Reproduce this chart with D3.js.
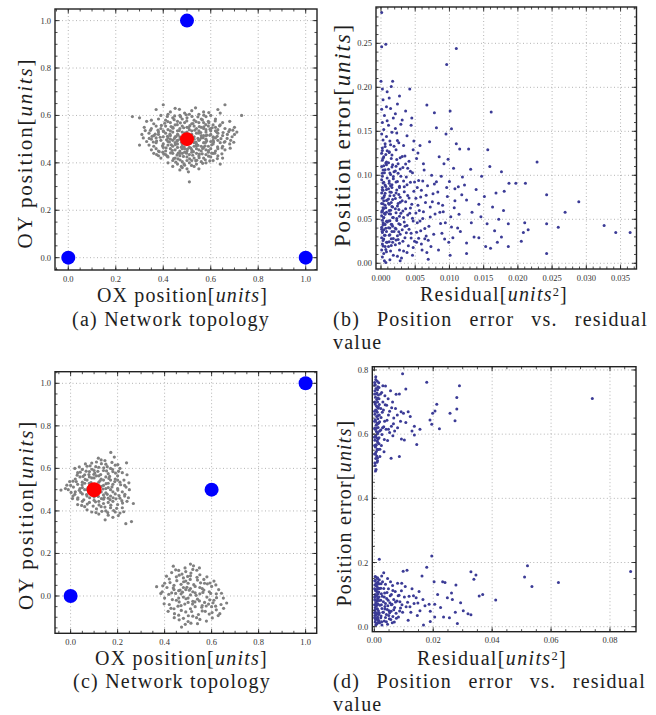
<!DOCTYPE html>
<html lang="en">
<head>
<meta charset="UTF-8">
<title>Network topology and position error vs residual</title>
<script src="https://cdn.jsdelivr.net/npm/d3@7"></script>
<style>
  body { margin: 0; background: #fff; }
  svg { display: block; }
  svg text { font-family: "Liberation Serif", "Times New Roman", serif; }
</style>
</head>
<body>
<svg id="fig" width="656" height="715"></svg>
<script>
// ---- data ----

// (a) anchors, target and estimated positions
const anchorsA = [[0, 0], [.5, 1], [1, 0]];
const targetA = [[.5, .5]];
const cloudA = [
  [.40,.645],[.66,.645],[.45,.63],[.37,.625],[.63,.625],[.52,.62],[.57,.615],[.43,.615],[.49,.61],
  [.27,.595],[.73,.60],[.30,.59],[.42,.605],[.47,.60],[.55,.605],[.60,.60],[.64,.61],[.39,.60],[.51,.605],[.58,.595],[.35,.58],
  [.33,.575],[.38,.585],[.41,.58],[.44,.59],[.46,.575],[.48,.585],[.50,.59],[.53,.58],[.56,.585],[.59,.575],[.62,.585],[.65,.57],[.68,.575],[.36,.565],[.43,.57],[.52,.565],[.57,.57],[.61,.56],[.49,.57],[.55,.57],
  [.32,.55],[.35,.545],[.37,.555],[.39,.545],[.41,.555],[.42,.54],[.44,.55],[.45,.56],[.47,.545],[.48,.555],[.50,.55],[.51,.54],[.53,.555],[.54,.545],[.56,.55],[.58,.54],[.59,.555],[.60,.545],[.62,.55],[.63,.54],[.66,.545],[.68,.54],[.70,.55],[.46,.535],[.40,.535],[.55,.535],[.64,.56],[.38,.53],
  [.31,.52],[.34,.525],[.36,.515],[.38,.52],[.40,.51],[.41,.525],[.43,.515],[.44,.53],[.46,.52],[.47,.51],[.49,.525],[.52,.52],[.53,.51],[.55,.525],[.57,.515],[.58,.53],[.60,.52],[.61,.51],[.63,.525],[.65,.515],[.67,.52],[.69,.51],[.71,.53],[.70,.52],[.42,.505],[.56,.505],[.62,.535],[.37,.505],
  [.30,.475],[.33,.49],[.35,.50],[.37,.485],[.39,.495],[.40,.48],[.42,.49],[.43,.50],[.45,.485],[.46,.495],[.48,.48],[.54,.48],[.55,.495],[.57,.485],[.58,.50],[.60,.49],[.61,.48],[.63,.495],[.64,.485],[.66,.49],[.68,.48],[.36,.47],[.59,.47],[.44,.47],[.65,.47],[.34,.475],[.62,.505],
  [.35,.455],[.37,.46],[.38,.45],[.40,.465],[.41,.45],[.43,.46],[.45,.455],[.46,.465],[.47,.45],[.49,.46],[.50,.45],[.51,.465],[.52,.455],[.54,.46],[.56,.45],[.57,.465],[.58,.455],[.60,.46],[.62,.45],[.63,.46],[.66,.455],[.48,.47],[.53,.47],
  [.38,.43],[.39,.42],[.41,.435],[.42,.425],[.44,.44],[.45,.42],[.47,.43],[.48,.44],[.50,.425],[.51,.435],[.53,.42],[.54,.44],[.55,.43],[.57,.42],[.58,.435],[.60,.425],[.61,.44],[.63,.43],[.65,.42],[.36,.44],[.59,.445],
  [.42,.40],[.44,.41],[.46,.395],[.48,.405],[.49,.39],[.51,.40],[.52,.41],[.54,.395],[.56,.405],[.58,.40],[.64,.395],[.61,.41],[.50,.41],
  [.47,.37],[.48,.38],[.50,.375],[.53,.385],[.55,.375],[.44,.385],[.51,.32],
  [.47,.50],[.49,.505],[.51,.515],[.53,.50],[.56,.515],[.45,.51],[.48,.53],[.52,.535],[.54,.525],[.50,.53],[.46,.48],[.53,.485],[.56,.47],[.44,.495],[.58,.515],[.48,.46],[.55,.455],[.52,.445],[.47,.44],[.57,.545],[.43,.535],[.60,.535],[.49,.445],[.42,.475],[.61,.495],
  [.383,.447],[.397,.472],[.412,.463],[.426,.488],[.438,.452],[.451,.477],[.463,.441],[.476,.466],[.489,.492],[.502,.458],[.514,.483],[.527,.447],[.539,.472],[.552,.437],[.566,.461],[.578,.486],[.591,.452],[.604,.476],[.617,.441],[.629,.467],
  [.387,.508],[.401,.532],[.414,.497],[.428,.521],[.441,.546],[.454,.511],[.467,.536],[.481,.501],[.494,.525],[.507,.549],[.519,.514],[.533,.538],[.546,.503],[.558,.528],[.571,.552],[.584,.517],[.597,.542],[.611,.507],[.624,.531],[.637,.556],
  [.392,.558],[.406,.567],[.419,.574],[.433,.553],[.446,.582],[.459,.561],[.472,.569],[.486,.548],[.499,.577],[.512,.557],[.525,.566],[.538,.574],[.552,.553],[.565,.581],[.579,.561],[.592,.569],[.606,.548],[.619,.577],
  [.402,.437],[.417,.428],[.431,.442],[.444,.418],[.458,.433],[.471,.412],[.485,.427],[.498,.441],[.511,.417],[.524,.432],[.537,.409],[.551,.422],[.564,.438],[.577,.413],[.591,.428],[.604,.441],
  [.372,.492],[.378,.538],[.366,.521],[.643,.502],[.652,.528],[.648,.463],[.657,.487],[.669,.503],[.676,.532],[.684,.495],[.693,.538],[.353,.512],[.346,.537],[.358,.488],[.341,.503],[.324,.536],[.316,.505],
  [.447,.503],[.462,.518],[.477,.487],[.492,.513],[.508,.492],[.523,.508],[.538,.488],[.553,.497],[.568,.506],[.583,.492],[.458,.492],[.488,.468],[.516,.462],[.546,.474],[.576,.472],[.434,.476],[.418,.512],[.596,.516],[.612,.488],[.627,.512],
  [.448,.598],[.473,.594],[.497,.603],[.521,.596],[.546,.594],[.571,.601],[.468,.626],[.536,.632],[.592,.612],[.417,.596],
  [.453,.403],[.487,.396],[.519,.389],[.541,.411],[.566,.398],[.596,.408],[.476,.385],[.506,.362],[.462,.417],[.628,.418],[.398,.445],[.372,.435],[.647,.438],[.682,.462],[.697,.487]
];

// (b) residual vs position error
const errB = [
  [.0001,.285],[.0001,.246],[.0007,.249],[0,.207],[.0002,.198],[.0003,.186],[.0001,.175],[.0005,.168],[.0002,.160],[.0004,.152],[.0001,.147],[.0003,.140],[.0006,.136],[.0002,.131],[.0001,.125],[.0004,.121],[.0002,.117],[.0007,.114],[.0001,.110],[.0003,.106],[.0005,.103],[.0002,.099],[.0001,.095],[.0004,.092],[.0006,.089],[.0002,.086],[.0003,.083],[.0001,.080],[.0005,.077],[.0002,.074],[.0004,.071],[.0001,.068],[.0006,.066],[.0003,.063],[.0002,.060],[.0005,.057],[.0001,.054],[.0004,.052],[.0002,.049],[.0003,.046],[.0006,.044],[.0001,.041],[.0004,.038],[.0002,.035],[.0005,.032],[.0001,.029],[.0003,.026],[.0002,.022],[.0006,.019],[.0001,.015],[.0004,.011],[.0002,.007],[.0005,.003],
  [.0009,.195],[.0008,.178],[.0009,.162],[.0008,.144],[.0009,.128],[.0008,.112],[.0009,.097],[.0008,.084],[.0009,.072],[.0008,.058],[.0009,.047],[.0008,.036],[.0009,.024],[.0008,.013],[.0007,.001],
  [.0017,.207],[.0015,.201],[.0012,.188],[.0014,.176],[.0018,.165],[.0011,.157],[.0016,.149],[.0013,.139],[.0019,.133],[.0012,.126],[.0015,.119],[.0017,.112],[.0011,.107],[.0014,.101],[.0018,.096],[.0012,.091],[.0016,.086],[.0013,.081],[.0019,.077],[.0011,.073],[.0015,.069],[.0017,.064],[.0012,.060],[.0014,.056],[.0018,.052],[.0011,.048],[.0016,.044],[.0013,.040],[.0019,.036],[.0012,.032],[.0015,.028],[.0017,.024],[.0011,.019],[.0014,.014],[.0018,.009],[.0013,.004],[.0016,.123],[.0019,.104],[.0012,.067],[.0017,.042],[.0014,.088],
  [.0027,.190],[.0024,.181],[.0021,.170],[.0029,.158],[.0023,.148],[.0026,.137],[.0022,.129],[.0028,.120],[.0025,.113],[.0021,.105],[.0029,.099],[.0024,.093],[.0027,.086],[.0022,.080],[.0028,.075],[.0025,.068],[.0021,.062],[.0029,.057],[.0023,.051],[.0026,.045],[.0022,.039],[.0028,.033],[.0025,.027],[.0021,.021],[.0027,.015],[.0024,.008],[.0028,.003],[.0023,.118],[.0026,.061],
  [.0042,.198],[.0036,.173],[.0031,.163],[.0044,.157],[.0038,.145],[.0033,.134],[.0047,.129],[.0035,.122],[.0041,.116],[.0032,.109],[.0046,.103],[.0037,.098],[.0043,.092],[.0034,.087],[.0048,.082],[.0039,.077],[.0031,.071],[.0045,.067],[.0036,.062],[.0042,.057],[.0033,.052],[.0047,.048],[.0038,.043],[.0031,.038],[.0044,.034],[.0035,.029],[.0049,.025],[.0040,.020],[.0033,.014],[.0046,.009],[.0030,.006],[.0045,.165],[.0048,.139],[.0039,.108],[.0035,.042],
  [.0067,.180],[.0057,.134],[.0071,.138],[.0052,.119],[.0063,.106],[.0074,.100],[.0055,.094],[.0068,.088],[.0059,.083],[.0076,.079],[.0051,.074],[.0065,.069],[.0072,.064],[.0056,.060],[.0079,.056],[.0061,.051],[.0053,.046],[.0070,.042],[.0058,.037],[.0077,.033],[.0064,.028],[.0052,.024],[.0073,.019],[.0060,.015],[.0069,.0045],[.0078,.090],[.0054,.066],[.0066,.031],[.0075,.070],[.0062,.113],
  [.0078,.171],[.0101,.173],[.0103,.153],[.0081,.154],[.0095,.147],[.0110,.136],[.0115,.130],[.0096,.226],[.0110,.244],[.0085,.121],[.0092,.113],[.0106,.108],[.0088,.099],[.0100,.093],[.0113,.087],[.0083,.081],[.0097,.076],[.0108,.071],[.0090,.066],[.0118,.078],[.0086,.058],[.0102,.053],[.0094,.046],[.0112,.040],[.0089,.034],[.0105,.029],[.0099,.024],[.0116,.036],[.0101,.009],[.0084,.015],[.0107,.063],[.0119,.098],
  [.0128,.130],[.0156,.129],[.0161,.172],[.0159,.110],[.0131,.107],[.0147,.099],[.0176,.104],[.0187,.091],[.0197,.091],[.0122,.089],[.0139,.084],[.0151,.076],[.0168,.080],[.0180,.082],[.0125,.072],[.0143,.067],[.0163,.064],[.0179,.060],[.0133,.058],[.0172,.050],[.0155,.045],[.0186,.045],[.0125,.023],[.0136,.030],[.0143,.029],[.0153,.019],[.0160,.017],[.0125,.011],[.0176,.030],[.0186,.019],[.0166,.037],[.0146,.053],[.0132,.046],[.0170,.024],
  [.0211,.091],[.0228,.115],[.0242,.078],[.0289,.070],[.0269,.058],[.0242,.045],[.0259,.041],[.0326,.043],[.0343,.035],[.0364,.035],[.0242,.011],[.0215,.038],[.0208,.035],[.0205,.025],[.0210,.046],
  [.0003,.0913],[.0007,.0872],[.0002,.0834],[.0006,.0795],[.0004,.0751],[.0008,.0713],[.0003,.0676],[.0007,.0632],[.0002,.0594],[.0006,.0558],[.0004,.0517],[.0008,.0478],[.0003,.0436],[.0007,.0397],[.0002,.0362],[.0006,.0318],[.0004,.0276],[.0008,.0238],[.0003,.0197],[.0007,.0156],[.0002,.1023],[.0006,.1064],[.0004,.1108],[.0008,.1152],[.0003,.1194],[.0007,.1236],[.0002,.1283],[.0006,.1327],[.0004,.0623],[.0001,.0583],[.0005,.0446],[.0001,.0387],
  [.0012,.0935],[.0016,.0893],[.0011,.0847],[.0015,.0806],[.0013,.0768],[.0017,.0724],[.0011,.0683],[.0016,.0645],[.0014,.0602],[.0012,.0563],[.0017,.0521],[.0013,.0484],[.0015,.0443],[.0011,.0405],[.0016,.0361],[.0013,.0324],[.0018,.0283],[.0012,.0246],[.0015,.0203],[.0011,.1143],[.0016,.1094],[.0013,.1027],[.0018,.0987],[.0012,.1268],[.0014,.1347],
  [.0022,.0923],[.0027,.0876],[.0023,.0832],[.0026,.0783],[.0021,.0737],[.0028,.0695],[.0024,.0652],[.0022,.0574],[.0027,.0534],[.0023,.0487],[.0028,.0441],[.0021,.0398],[.0026,.0357],[.0024,.0313],[.0022,.0264],[.0027,.0227],[.0025,.1024],[.0022,.1103],[.0028,.1072],[.0024,.1396],[.0021,.1532],
  [.0033,.0935],[.0038,.0893],[.0034,.0812],[.0041,.0743],[.0036,.0698],[.0043,.0627],[.0032,.0593],[.0039,.0548],[.0046,.0512],[.0034,.0468],[.0041,.0387],[.0037,.0348],[.0044,.0287],[.0032,.0251],[.0047,.0179],[.0038,.0123],[.0036,.1128],[.0043,.1047],[.0031,.1215],[.0049,.0924],
  [.0053,.0862],[.0058,.0753],[.0062,.0587],[.0057,.0482],[.0064,.0396],[.0052,.0353],[.0069,.0262],[.0055,.0285],[.0072,.0527],[.0066,.0774],[.0061,.0934],[.0054,.1253],[.0059,.0218],[.0067,.0123],[.0051,.0571],
  [.0084,.0683],[.0091,.0587],[.0096,.0862],[.0087,.0453],[.0103,.0413],[.0093,.0275],[.0081,.0926],[.0098,.1182],[.0108,.0847],[.0114,.0558]
];

// (c) anchors, target and two estimated clouds
const anchorsC = [[0, 0], [.6, .5], [1, 1]];
const targetC = [[.1, .5]];
const cloudC = [
  [-.041,.498],[.018,.60],[.171,.675],[.186,.653],[.238,.626],[.235,.34],[.259,.35],[.267,.435],[.147,.358],
  [.02,.55],[.03,.58],[.05,.595],[.07,.61],[.09,.625],[.11,.63],[.13,.64],[.15,.62],[.17,.60],[.19,.615],[.21,.60],[.22,.58],
  [.00,.52],[.01,.54],[.03,.525],[.04,.56],[.06,.57],[.08,.585],[.10,.59],[.12,.605],[.14,.59],[.16,.575],[.18,.585],[.20,.565],[.24,.57],
  [-.01,.50],[.02,.49],[.04,.505],[.05,.535],[.07,.545],[.09,.555],[.11,.565],[.13,.55],[.15,.56],[.17,.545],[.19,.55],[.21,.535],[.23,.52],
  [.01,.47],[.03,.455],[.05,.48],[.06,.50],[.08,.515],[.10,.525],[.12,.535],[.14,.52],[.16,.51],[.18,.525],[.20,.505],[.22,.49],[.25,.50],
  [.03,.43],[.05,.445],[.07,.47],[.09,.48],[.11,.475],[.13,.49],[.15,.485],[.17,.47],[.19,.48],[.21,.46],[.23,.47],[.24,.445],
  [.06,.42],[.08,.44],[.10,.45],[.12,.445],[.14,.455],[.16,.44],[.18,.445],[.20,.43],[.22,.415],[.07,.405],[.11,.41],[.13,.42],[.15,.40],[.17,.415],[.19,.395],[.21,.39],[.16,.38],[.12,.385],[.18,.37],[.09,.395],[.14,.435],
  [.08,.53],[.12,.50],[.14,.545],[.16,.53],[.10,.555],[.06,.53],[.13,.515],[.15,.505],[.11,.49],[.09,.505],[.17,.50],[.07,.50],[.12,.565],[.18,.49],[.10,.465],[.14,.475],[.16,.46],[.05,.51],[.20,.545],[.08,.56],
  [.012,.512],[.024,.538],[.037,.497],[.049,.523],[.062,.548],[.074,.508],[.087,.533],[.099,.572],[.113,.518],[.126,.543],[.138,.503],[.151,.528],[.163,.553],[.176,.513],[.188,.538],[.201,.498],[.213,.523],
  [.018,.478],[.031,.462],[.043,.487],[.056,.452],[.068,.477],[.081,.462],[.093,.487],[.106,.443],[.118,.468],[.131,.458],[.143,.463],[.156,.478],[.168,.453],[.181,.462],[.193,.457],[.206,.472],[.218,.448],
  [.028,.568],[.041,.582],[.053,.562],[.066,.587],[.078,.571],[.091,.596],[.103,.578],[.116,.586],[.128,.571],[.141,.603],[.153,.588],[.166,.562],[.178,.596],[.191,.578],[.204,.586],
  [.047,.426],[.071,.432],[.096,.423],[.121,.428],[.146,.418],[.171,.427],[.196,.412],[.221,.437],[.133,.398],[.158,.392],[.183,.402],[.108,.392],[.203,.378],[.226,.396],
  [.083,.612],[.107,.608],[.131,.622],[.156,.608],[.118,.648],[.146,.637],[.063,.621],[.037,.607],[.176,.628],[.201,.618],[.227,.545],[.236,.512],[.231,.478],[.246,.462],[.248,.532],[-.004,.538],[-.016,.521],[.002,.487],[-.022,.505],[.008,.458],
  [.366,.044],[.51,.15],[.472,-.146],[.437,.14],[.664,-.033],[.635,-.083],
  [.43,.11],[.46,.12],[.49,.115],[.52,.125],[.55,.10],[.58,.09],[.61,.07],
  [.40,.06],[.42,.08],[.45,.09],[.48,.085],[.51,.095],[.54,.075],[.57,.06],[.60,.045],[.63,.03],
  [.39,.02],[.41,.04],[.44,.05],[.47,.055],[.50,.06],[.53,.045],[.56,.035],[.59,.02],[.62,.01],[.65,-.01],
  [.40,-.01],[.43,.015],[.46,.025],[.49,.03],[.52,.02],[.55,.01],[.58,-.005],[.61,-.02],[.64,-.04],
  [.42,-.04],[.45,-.02],[.48,-.005],[.51,.005],[.54,-.015],[.57,-.03],[.60,-.05],[.62,-.065],
  [.44,-.06],[.47,-.045],[.50,-.03],[.53,-.05],[.56,-.07],[.59,-.085],[.46,-.09],[.49,-.075],[.52,-.095],[.55,-.11],[.50,-.12],[.48,-.105],[.54,-.13],
  [.47,.01],[.50,-.01],[.53,.015],[.48,.04],[.51,.035],[.52,-.025],[.55,.04],[.46,-.01],[.49,.07],[.56,-.045],[.44,.03],[.51,-.06],
  [.423,.063],[.437,.038],[.452,.072],[.466,.028],[.481,.067],[.495,.041],[.509,.078],[.524,.053],[.538,.088],[.553,.062],[.567,.028],[.582,.057],[.596,.012],
  [.418,.008],[.433,-.017],[.447,.012],[.462,-.028],[.476,.018],[.491,-.013],[.505,.027],[.519,-.038],[.534,.003],[.548,-.023],[.563,.017],[.577,-.047],[.592,-.018],[.606,-.032],[.621,-.008],
  [.427,-.058],[.442,-.083],[.457,-.048],[.471,-.068],[.486,-.038],[.501,-.093],[.515,-.073],[.529,-.028],[.544,-.087],[.558,-.053],[.573,-.072],[.587,-.038],[.602,-.078],[.617,-.048],
  [.462,.098],[.487,.132],[.512,.108],[.537,.121],[.498,.092],[.474,.103],[.567,.078],[.593,.061],[.618,.052],[.642,.013],[.651,-.058],[.628,-.092],[.603,-.103],[.578,-.118],[.536,-.102],[.512,-.128],[.488,-.133],[.462,-.112],[.441,-.102],[.415,-.072],[.398,-.037],[.384,.012],[.392,.048],[.408,.093],[.447,.123],[.523,.142],[.548,.132]
];

// (d) residual vs position error
const errD = [
  [.0005,.77],[.001,.765],[.0003,.755],[.0012,.748],[.0006,.742],[.0002,.735],[.0009,.728],[.0014,.722],[.0004,.715],[.0008,.708],[.0011,.70],[.0003,.694],[.0007,.688],[.0013,.681],[.0005,.675],[.001,.668],[.0002,.662],[.0008,.655],[.0012,.648],[.0004,.641],[.0009,.635],[.0006,.628],[.0013,.621],[.0003,.615],[.0007,.608],[.0011,.601],[.0005,.595],[.0009,.588],[.0002,.581],[.0012,.574],[.0006,.567],[.0004,.56],[.001,.553],[.0007,.546],[.0003,.539],[.0008,.532],[.0005,.524],[.0011,.517],[.0002,.51],[.0006,.49],[.0004,.485],[.0015,.76],[.0016,.71],[.0017,.66],[.0018,.61],[.0016,.57],[.0019,.53],[.0001,.70],[.0001,.64],[.0001,.59],[.0014,.685],[.0015,.635],[.0013,.585],
  [.0025,.73],[.0038,.75],[.0042,.69],[.0031,.675],[.0055,.735],[.0062,.70],[.0048,.66],[.0035,.64],[.0028,.62],[.0052,.605],[.0066,.65],[.0072,.68],[.0085,.725],[.0096,.788],[.0045,.58],[.0058,.625],[.0079,.62],[.0024,.565],[.0033,.545],[.0057,.525],[.0085,.53],[.0078,.66],[.0069,.61],[.0091,.67],[.0099,.665],[.0102,.582],[.0092,.585],[.0107,.741],[.0074,.724],[.0022,.68],[.0029,.70],[.004,.615],[.0063,.595],[.0036,.72],[.0047,.71],[.0089,.64],
  [.0107,.636],[.0136,.597],[.0136,.625],[.0144,.568],[.0155,.615],[.0178,.762],[.0189,.644],[.0195,.631],[.0198,.665],[.0206,.672],[.0212,.693],[.0221,.617],[.0257,.665],[.0274,.642],[.028,.678],[.028,.714],[.0289,.751],[.0122,.655],[.0128,.61],[.0115,.67],[.074,.711],
  [.0002,.7523],[.0006,.7254],[.0004,.6983],[.0008,.6717],[.0003,.6452],[.0007,.6186],[.0002,.5918],[.0006,.5652],[.0004,.5387],[.0009,.5123],[.0003,.5024],[.0011,.7387],[.0012,.7118],[.0010,.6852],[.0013,.6584],[.0011,.6318],[.0012,.6049],[.0010,.5784],[.0013,.5518],[.0011,.5253],[.0001,.7612],[.0001,.7248],[.0001,.6716],[.0001,.6182],[.0001,.5647],[.0001,.5384],[.0005,.7786],[.0016,.7453],[.0017,.6923],[.0018,.6387],[.0016,.5887],[.0019,.5532],[.0021,.7248],[.0023,.6521],[.0026,.5987],[.0022,.6132],[.0027,.6684],[.0032,.6234],[.0037,.6917],[.0043,.6434],[.0052,.6713],[.0034,.5834],[.0048,.6152],[.0059,.6823],[.0065,.6326],[.0029,.7512],
  [.0017,.21],[.0005,.155],[.001,.15],[.0003,.145],[.0012,.14],[.0007,.135],[.0002,.13],[.0009,.125],[.0014,.12],[.0004,.115],[.0008,.11],[.0011,.105],[.0003,.10],[.0006,.095],[.0013,.09],[.0002,.085],[.0009,.08],[.0005,.075],[.0012,.07],[.0007,.065],[.0003,.06],[.001,.055],[.0014,.05],[.0004,.045],[.0008,.04],[.0002,.035],[.0011,.03],[.0006,.025],[.0013,.02],[.0003,.015],[.0009,.01],[.0005,.005],[.0001,.118],[.0001,.068],[.0001,.028],[.0015,.108],[.0016,.082],[.0015,.038],[.0017,.134],[.0018,.012],
  [.0025,.158],[.0032,.168],[.0045,.15],[.0028,.14],[.0038,.132],[.0055,.14],[.0062,.128],[.0022,.12],[.0048,.118],[.0071,.11],[.0035,.105],[.0058,.10],[.0027,.095],[.0084,.098],[.0042,.088],[.0066,.085],[.0031,.078],[.0053,.075],[.0077,.08],[.0024,.068],[.0046,.065],[.0069,.06],[.0036,.055],[.0089,.058],[.0057,.048],[.0029,.045],[.0074,.042],[.0041,.038],[.0063,.032],[.0022,.028],[.0051,.025],[.0082,.03],[.0034,.018],[.0068,.015],[.0045,.008],[.0026,.005],[.0093,.135],[.0098,.173],[.0061,.012],[.0079,.135],[.0092,.112],[.0087,.078],[.0096,.045],[.0038,.072],[.006,.07],[.005,.05],
  [.0111,.176],[.0162,.158],[.0178,.185],[.0195,.22],[.0105,.125],[.0128,.118],[.0152,.11],[.0118,.095],[.0142,.09],[.0165,.085],[.0135,.072],[.0172,.065],[.0108,.062],[.0186,.07],[.0124,.045],[.0155,.05],[.019,.048],[.0146,.035],[.0115,.02],[.0167,.005],[.019,.016],[.0203,.14],[.0215,.10],[.0232,.14],[.024,.138],[.0205,.07],[.0225,.06],[.0248,.09],[.0262,.105],[.0255,.028],[.0275,.045],[.0277,.13],[.0293,.075],[.0302,.05],[.0318,.04],[.0328,.037],[.0328,.171],[.0338,.148],[.0345,.161],[.0356,.096],[.0368,.10],[.0412,.083],[.0282,.01],[.0235,.03],[.0205,.03],[.0265,.085],[.052,.19],[.051,.155],[.0535,.125],[.0625,.138],[.087,.172],
  [.0002,.1423],[.0006,.1283],[.0004,.1127],[.0008,.0968],[.0003,.0823],[.0007,.0672],[.0002,.0517],[.0006,.0368],[.0004,.0213],[.0008,.0087],[.0011,.1524],[.0012,.1328],[.0010,.1163],[.0013,.1016],[.0011,.0867],[.0012,.0712],[.0010,.0563],[.0013,.0418],[.0011,.0263],[.0012,.0124],[.0017,.1462],[.0018,.1187],[.0016,.0923],[.0019,.0668],[.0017,.0423],[.0016,.0182],[.0023,.1336],[.0024,.1028],[.0022,.0823],[.0026,.0567],[.0023,.0337],[.0025,.0153],[.0032,.1187],[.0034,.0923],[.0036,.0632],[.0031,.0453],[.0038,.0287],[.0043,.1068],[.0047,.0823],[.0044,.0538],[.0049,.0347],[.0041,.0157],[.0054,.0963],[.0058,.0683],[.0052,.0432],[.0056,.0224],[.0063,.1124],[.0066,.0528],[.0072,.0768],[.0075,.0263],[.0081,.0968],[.0086,.0487],[.0094,.0687],[.0102,.0923],[.0113,.0758],[.0121,.0623],[.0133,.0962],[.0148,.0738],[.0003,.1568],[.0001,.0923],[.0001,.0434]
];

// tick values
const ticksTopo = [0, .2, .4, .6, .8, 1];
const ticksResB = [0, .005, .01, .015, .02, .025, .03, .035];
const ticksErrB = [0, .05, .1, .15, .2, .25];
const ticksResD = [0, .02, .04, .06, .08];
const ticksErrD = [0, .2, .4, .6, .8];

// ---- drawing ----
const svg = d3.select("#fig");
svg.append("rect").attr("width", 656).attr("height", 715).attr("fill", "#fff");

const labelTopoX = [{t: "OX position["}, {t: "units", i: true}, {t: "]"}];
const labelTopoY = [{t: "OY position["}, {t: "units", i: true}, {t: "]"}];
const labelRes = [{t: "Residual["}, {t: "units", i: true}, {t: "2", sup: true}, {t: "]"}];
const labelErr = [{t: "Position error["}, {t: "units", i: true}, {t: "]"}];

function richText(g, parts, size) {
  const t = g.append("text").attr("font-size", size).attr("fill", "#1e1e1e");
  parts.forEach(p => {
    const s = t.append("tspan").text(p.t);
    if (p.i) s.attr("font-style", "italic");
    if (p.sup) s.attr("baseline-shift", "40%").attr("font-size", "62%");
  });
  return t;
}

// the original uses a wide font: widen with letter spacing up to the wanted length
function fit(t, len) {
  const w = t.node().getComputedTextLength();
  const n = t.text().length;
  t.attr("letter-spacing", Math.max(0, (len - w) / n));
}

function panel(c) {
  const x = d3.scaleLinear().domain(c.xd).range([c.l, c.r]);
  const y = d3.scaleLinear().domain(c.yd).range([c.b, c.t]);
  const g = svg.append("g");

  // dotted grid at major ticks
  g.append("g").selectAll("line").data(c.xt).join("line")
    .attr("x1", d => x(d)).attr("x2", d => x(d)).attr("y1", c.t).attr("y2", c.b)
    .attr("stroke", "#b4b4b4").attr("stroke-dasharray", "1,2.5");
  g.append("g").selectAll("line").data(c.yt).join("line")
    .attr("y1", d => y(d)).attr("y2", d => y(d)).attr("x1", c.l).attr("x2", c.r)
    .attr("stroke", "#b4b4b4").attr("stroke-dasharray", "1,2.5");

  // points
  c.layers.forEach(L => {
    g.append("g").selectAll("circle").data(L.data).join("circle")
      .attr("cx", d => x(d[0])).attr("cy", d => y(d[1]))
      .attr("r", L.r).attr("fill", L.color);
  });

  // inward ticks on every side
  const minorX = d3.range(Math.ceil(c.xd[0] / c.xm), Math.floor(c.xd[1] / c.xm) + 1).map(i => i * c.xm);
  const minorY = d3.range(Math.ceil(c.yd[0] / c.ym), Math.floor(c.yd[1] / c.ym) + 1).map(i => i * c.ym);
  const tk = g.append("g").attr("stroke", "#222").attr("stroke-width", 0.8);
  [[minorX, 2.5], [c.xt, 4.5]].forEach(([vals, len]) => {
    vals.forEach(v => {
      tk.append("line").attr("x1", x(v)).attr("x2", x(v)).attr("y1", c.b).attr("y2", c.b - len);
      tk.append("line").attr("x1", x(v)).attr("x2", x(v)).attr("y1", c.t).attr("y2", c.t + len);
    });
  });
  [[minorY, 2.5], [c.yt, 4.5]].forEach(([vals, len]) => {
    vals.forEach(v => {
      tk.append("line").attr("y1", y(v)).attr("y2", y(v)).attr("x1", c.l).attr("x2", c.l + len);
      tk.append("line").attr("y1", y(v)).attr("y2", y(v)).attr("x1", c.r).attr("x2", c.r - len);
    });
  });

  // frame
  g.append("rect").attr("x", c.l).attr("y", c.t).attr("width", c.r - c.l).attr("height", c.b - c.t)
    .attr("fill", "none").attr("stroke", "#222").attr("stroke-width", 1.4);

  // tick labels
  g.append("g").selectAll("text").data(c.xt).join("text")
    .attr("x", d => x(d)).attr("y", c.b + 11.5).attr("text-anchor", "middle")
    .attr("font-size", 8.5).attr("fill", "#333").text(d3.format(c.xf));
  g.append("g").selectAll("text").data(c.yt).join("text")
    .attr("x", c.l - 4).attr("y", d => y(d) + 3).attr("text-anchor", "end")
    .attr("font-size", 8.5).attr("fill", "#333").text(d3.format(c.yf));

  // axis titles
  const xl = richText(g, c.xl, c.xs).attr("text-anchor", "middle")
    .attr("x", c.xlx).attr("y", c.xly);
  fit(xl, c.xlw);
  const yl = richText(g, c.yl, c.ys).attr("text-anchor", "middle")
    .attr("transform", `translate(${c.ylx},${c.yly}) rotate(-90)`);
  fit(yl, c.ylw);
}

panel({
  l: 55, r: 317, t: 9, b: 270, xd: [-.056, 1.0476], yd: [-.052, 1.049],
  xt: ticksTopo, yt: ticksTopo, xm: .05, ym: .05, xf: ".1f", yf: ".1f",
  layers: [
    {data: cloudA, r: 1.6, color: "#808080"},
    {data: anchorsA, r: 7, color: "#0000ff"},
    {data: targetA, r: 7, color: "#ff0000"}
  ],
  xl: labelTopoX, xs: 20, xlx: 182.5, xly: 301.5, xlw: 171,
  yl: labelTopoY, ys: 21, ylx: 32, yly: 153, ylw: 191
});

panel({
  l: 376, r: 636.5, t: 7, b: 269, xd: [-.00073, .03733], yd: [-.0065, .2913],
  xt: ticksResB, yt: ticksErrB, xm: .001, ym: .01, xf: ".3f", yf: ".2f",
  layers: [{data: errB, r: 1.5, color: "#3b3b96"}],
  xl: labelRes, xs: 20, xlx: 494, xly: 301, xlw: 148,
  yl: labelErr, ys: 23, ylx: 350, yly: 135, ylw: 224
});

panel({
  l: 55, r: 316.7, t: 371.7, b: 633.3, xd: [-.0664, 1.0472], yd: [-.1754, 1.0546],
  xt: ticksTopo, yt: ticksTopo, xm: .05, ym: .05, xf: ".1f", yf: ".1f",
  layers: [
    {data: cloudC, r: 1.6, color: "#808080"},
    {data: anchorsC, r: 7, color: "#0000ff"},
    {data: targetC, r: 7.5, color: "#ff0000"}
  ],
  xl: labelTopoX, xs: 20, xlx: 181.5, xly: 665, xlw: 173,
  yl: labelTopoY, ys: 21, ylx: 33, yly: 515, ylw: 190
});

panel({
  l: 372.3, r: 636, t: 366.7, b: 631.7, xd: [-.00068, .08883], yd: [-.0156, .8102],
  xt: ticksResD, yt: ticksErrD, xm: .005, ym: .05, xf: ".2f", yf: ".1f",
  layers: [{data: errD, r: 1.5, color: "#3b3b96"}],
  xl: labelRes, xs: 20, xlx: 492, xly: 665, xlw: 150,
  yl: labelErr, ys: 20, ylx: 351, yly: 513, ylw: 187
});

// ---- captions ----
const capSize = 20;
const capA = svg.append("text").attr("x", 72).attr("y", 326).attr("font-size", capSize)
  .attr("fill", "#1e1e1e").text("(a) Network topology");
fit(capA, 198);
const capLs = capA.attr("letter-spacing");
svg.append("text").attr("x", 73).attr("y", 688).attr("font-size", capSize)
  .attr("letter-spacing", capLs).attr("fill", "#1e1e1e").text("(c) Network topology");

// justified first line, then a short second line
function caption(words, x0, x1, yb, rest) {
  const g = svg.append("g").attr("font-size", capSize).attr("letter-spacing", capLs).attr("fill", "#1e1e1e");
  const ts = words.map(w => g.append("text").attr("y", yb).text(w));
  const ws = ts.map(t => t.node().getComputedTextLength());
  const gap = (x1 - x0 - d3.sum(ws)) / (words.length - 1);
  let cx = x0;
  ts.forEach((t, i) => { t.attr("x", cx); cx += ws[i] + gap; });
  g.append("text").attr("x", x0).attr("y", yb + 23).text(rest);
}
caption(["(b)", "Position", "error", "vs.", "residual"], 333, 648, 326, "value");
caption(["(d)", "Position", "error", "vs.", "residual"], 333, 646, 688, "value");
</script>
</body>
</html>
